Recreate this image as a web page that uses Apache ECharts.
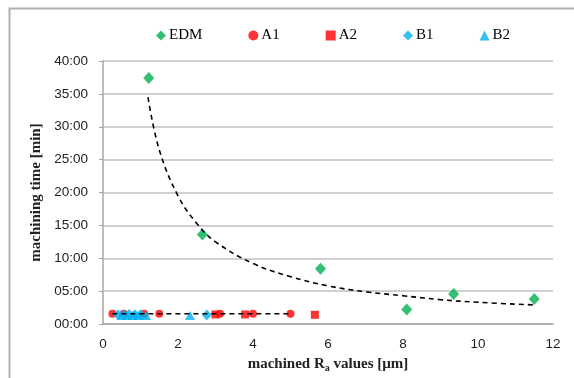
<!DOCTYPE html>
<html>
<head>
<meta charset="utf-8">
<script src="https://cdn.jsdelivr.net/npm/echarts@6/dist/echarts.min.js"></script>
<style>
html,body{margin:0;padding:0;background:#fff;}
#c{width:574px;height:378px;}
</style>
</head>
<body>
<div id="c"></div>
<script>
// Data (x = machined Ra [µm], y = machining time [min])
const edmX = [1.22, 2.65, 5.8, 8.1, 9.35, 11.5];
const edmY = [37.4, 13.6, 8.4, 2.2, 4.55, 3.8];
const a1X = [0.25, 0.55, 1.1, 1.5, 3.12, 4.0, 5.0];
const a1Y = [1.55, 1.55, 1.55, 1.55, 1.55, 1.55, 1.55];
const a2X = [3.0, 3.79, 5.65];
const a2Y = [1.45, 1.45, 1.4];
const b1X = [0.4, 0.55, 0.7, 0.85, 1.0, 2.77];
const b1Y = [1.4, 1.4, 1.45, 1.4, 1.4, 1.35];
const b2X = [0.5, 0.65, 0.8, 0.95, 1.15, 2.32];
const b2Y = [1.3, 1.3, 1.3, 1.3, 1.3, 1.3];
// dashed trend curves
const edmTrendX = [1.2, 1.5, 2, 2.5, 3, 4, 5, 6, 7, 8, 9, 10, 11.5];
const edmTrendY = [34.5, 26.5, 19.5, 15.3, 12.5, 9.2, 7.2, 5.8, 4.9, 4.3, 3.7, 3.3, 2.9];
const a1TrendX = [0.25, 5.0];
const a1TrendY = [1.55, 1.55];
const yTicks = ['00:00','05:00','10:00','15:00','20:00','25:00','30:00','35:00','40:00'];
const xTicks = ['0','2','4','6','8','10','12'];

const zip = (xs, ys) => xs.map((x, i) => [x, ys[i]]);
const chart = echarts.init(document.getElementById('c'), null, {renderer: 'canvas'});
const serif = 'Liberation Serif, Times New Roman, serif';
const sans = 'Liberation Sans, Arial, sans-serif';

chart.setOption({
  animation: false,
  backgroundColor: '#fff',
  graphic: [{
    type: 'rect', left: 7, top: 6, silent: true,
    shape: {width: 700, height: 500},
    style: {fill: 'none', stroke: '#b0b0b0', lineWidth: 2}
  }],
  grid: {left: 103, right: 21, top: 61, bottom: 49, containLabel: false},
  legend: {
    data: ['EDM', 'A1', 'A2', 'B1', 'B2'],
    left: 151, top: 23,
    itemWidth: 10, itemHeight: 10, itemGap: 46,
    textStyle: {fontFamily: serif, fontSize: 15, color: '#000', padding: [0, 0, 0, -2]}
  },
  xAxis: {
    type: 'value', min: 0, max: 12, interval: 2,
    axisLine: {show: true, onZero: false, lineStyle: {color: '#a6a6a6', width: 1.5}},
    axisTick: {show: false},
    splitLine: {show: false},
    axisLabel: {fontFamily: sans, fontSize: 13.5, color: '#222', margin: 13,
      formatter: v => xTicks[Math.round(v / 2)]},
    name: '{b|machined R}{s|a}{b| values [µm]}',
    nameLocation: 'middle', nameGap: 31,
    nameTextStyle: {
      rich: {
        b: {fontFamily: serif, fontWeight: 'bold', fontSize: 15, color: '#222'},
        s: {fontFamily: serif, fontWeight: 'bold', fontSize: 10, color: '#222', verticalAlign: 'bottom', padding: [8, 0, 0, 0]}
      }
    }
  },
  yAxis: {
    type: 'value', min: 0, max: 40, interval: 5,
    axisLine: {show: true, lineStyle: {color: '#a6a6a6', width: 1.5}},
    axisTick: {show: true, length: 4, lineStyle: {color: '#a6a6a6'}},
    splitLine: {show: true, lineStyle: {color: '#c0c0c0', width: 1.5}},
    axisLabel: {fontFamily: sans, fontSize: 13.5, color: '#222', margin: 15,
      formatter: v => yTicks[Math.round(v / 5)]},
    name: 'machining time [min]',
    nameLocation: 'middle', nameGap: 56,
    nameTextStyle: {fontFamily: serif, fontWeight: 'bold', fontSize: 15, color: '#222'}
  },
  series: [
    {name: 'EDM', type: 'scatter', symbol: 'diamond', symbolSize: [11, 12],
      itemStyle: {color: '#00b050'}, data: zip(edmX, edmY), z: 3},
    {name: 'A1', type: 'scatter', symbol: 'circle', symbolSize: 8,
      itemStyle: {color: '#ff0000'}, data: zip(a1X, a1Y), z: 3},
    {name: 'A2', type: 'scatter', symbol: 'rect', symbolSize: 8,
      itemStyle: {color: '#ff0000'}, data: zip(a2X, a2Y), z: 3},
    {name: 'B1', type: 'scatter', symbol: 'diamond', symbolSize: [10, 11],
      itemStyle: {color: '#00b0f0'}, data: zip(b1X, b1Y), z: 4},
    {name: 'B2', type: 'scatter', symbol: 'triangle', symbolSize: [10, 9],
      itemStyle: {color: '#00b0f0'}, data: zip(b2X, b2Y), z: 4},
    {name: 'EDM trend', type: 'line', smooth: 0.4, symbol: 'none', silent: true,
      lineStyle: {color: '#000', width: 1.6, type: [5, 4]},
      data: zip(edmTrendX, edmTrendY), z: 5},
    {name: 'A1 trend', type: 'line', symbol: 'none', silent: true,
      lineStyle: {color: '#000', width: 1.6, type: [5, 4]},
      data: zip(a1TrendX, a1TrendY), z: 5}
  ]
});
</script>
</body>
</html>
